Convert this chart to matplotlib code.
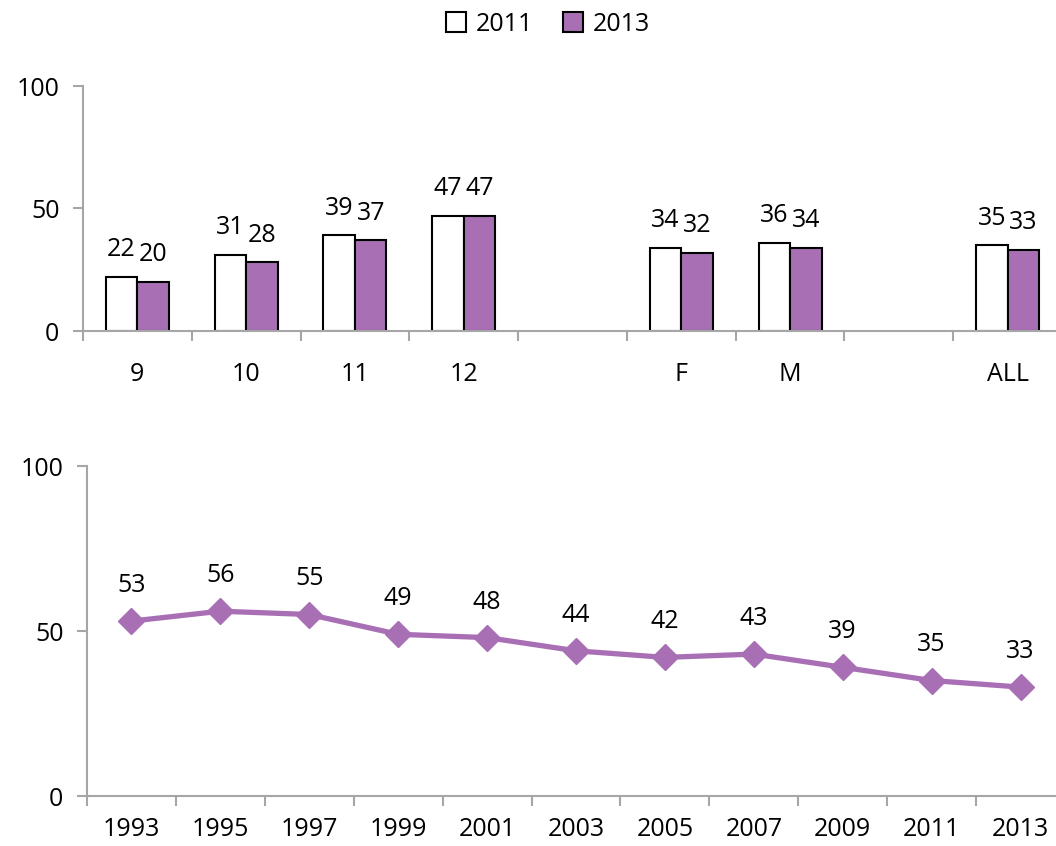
import matplotlib.pyplot as plt
import numpy as np

plt.rcParams['font.family'] = ['Open Sans', 'DejaVu Sans']

# --- data ---
categorias = ["9", "10", "11", "12", "", "F", "M", "", "ALL"]
val_2011 = [22, 31, 39, 47, None, 34, 36, None, 35]
val_2013 = [20, 28, 37, 47, None, 32, 34, None, 33]

anios = ["1993", "1995", "1997", "1999", "2001", "2003", "2005", "2007", "2009", "2011", "2013"]
tendencia = [53, 56, 55, 49, 48, 44, 42, 43, 39, 35, 33]

MORADO = "#A96FB5"
GRIS = "#A6A6A6"
FS = 18

fig = plt.figure(figsize=(10.56, 8.46), dpi=100)

# --- top: bars ---
ax1 = fig.add_axes([83/1056, 1 - 331/846, (1062-83)/1056, (331-86)/846])
x = np.arange(len(categorias))
w = 0.29
for i in range(len(categorias)):
    if val_2011[i] is None:
        continue
    ax1.bar(x[i] - w/2, val_2011[i], w, color="white", edgecolor="black", linewidth=1.5,
            label="2011" if i == 0 else None)
    ax1.bar(x[i] + w/2, val_2013[i], w, color=MORADO, edgecolor="black", linewidth=1.5,
            label="2013" if i == 0 else None)
    ax1.text(x[i] - w/2, val_2011[i] + 6, str(val_2011[i]), ha="center", va="bottom", fontsize=FS)
    ax1.text(x[i] + w/2, val_2013[i] + 6, str(val_2013[i]), ha="center", va="bottom", fontsize=FS)

ax1.set_xlim(-0.5, len(categorias) - 0.5)
ax1.set_ylim(0, 100)
ax1.set_yticks([0, 50, 100])
ax1.set_xticks(x)
ax1.set_xticklabels(categorias, fontsize=FS)
ax1.set_xticks(np.arange(-0.5, len(categorias)), minor=True)
ax1.tick_params(axis="x", which="major", length=0, pad=22)
ax1.tick_params(axis="x", which="minor", length=7, color=GRIS, width=1.5)
ax1.tick_params(axis="y", labelsize=FS, length=7, color=GRIS, width=1.5, pad=10)

leg = ax1.legend(loc="lower center", bbox_to_anchor=(0.475, 1.11), ncol=2, frameon=False,
                 fontsize=FS, handlelength=0.8, handleheight=0.9, handletextpad=0.4, columnspacing=1.2)

# --- bottom: line ---
ax2 = fig.add_axes([87/1056, 1 - 796/846, (1065-87)/1056, (796-466)/846])
xl = np.arange(len(anios))
ax2.plot(xl, tendencia, color=MORADO, linewidth=3.8, marker="D", markersize=13,
         markeredgecolor=MORADO)
for i, v in enumerate(tendencia):
    ax2.text(xl[i], v + 7, str(v), ha="center", va="bottom", fontsize=FS)

ax2.set_xlim(-0.5, len(anios) - 0.5)
ax2.set_ylim(0, 100)
ax2.set_yticks([0, 50, 100])
ax2.set_xticks(xl)
ax2.set_xticklabels(anios, fontsize=FS)
ax2.set_xticks(np.arange(-0.5, len(anios)), minor=True)
ax2.tick_params(axis="x", which="major", length=0, pad=15)
ax2.tick_params(axis="x", which="minor", length=7, color=GRIS, width=1.5)
ax2.tick_params(axis="y", labelsize=FS, length=7, color=GRIS, width=1.5, pad=10)

for ax in (ax1, ax2):
    for s in ("top", "right"):
        ax.spines[s].set_visible(False)
    for s in ("left", "bottom"):
        ax.spines[s].set_color(GRIS)
        ax.spines[s].set_linewidth(1.5)

fig.savefig("out.png", dpi=100)
